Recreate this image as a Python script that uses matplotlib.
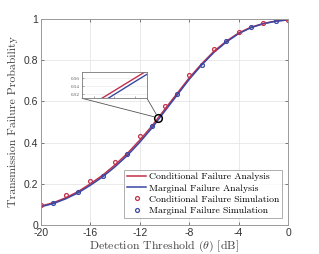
import numpy as np
import matplotlib
matplotlib.use("Agg")
import matplotlib.pyplot as plt

plt.rcParams["mathtext.fontset"] = "cm"

# analysis curves (1 dB steps)
theta = [-20, -19, -18, -17, -16, -15, -14, -13, -12, -11, -10,
         -9, -8, -7, -6, -5, -4, -3, -2, -1, 0]
cond_analysis = [0.092, 0.108, 0.132, 0.162, 0.200, 0.242, 0.292, 0.348, 0.412, 0.482, 0.560,
                 0.637, 0.714, 0.782, 0.843, 0.892, 0.932, 0.960, 0.978, 0.990, 0.996]
marg_analysis = [0.089, 0.104, 0.127, 0.156, 0.193, 0.234, 0.283, 0.338, 0.402, 0.472, 0.551,
                 0.629, 0.707, 0.776, 0.838, 0.888, 0.929, 0.958, 0.977, 0.989, 0.996]

# simulation points
cond_sim_x = [-20, -18, -16, -14, -12, -10, -8, -6, -4, -2, 0]
cond_sim_y = [0.098, 0.147, 0.214, 0.307, 0.434, 0.578, 0.728, 0.853, 0.935, 0.979, 0.995]
marg_sim_x = [-19, -17, -15, -13, -11, -9, -7, -5, -3, -1]
marg_sim_y = [0.105, 0.160, 0.238, 0.343, 0.480, 0.634, 0.777, 0.893, 0.963, 0.990]

xticks = [-20, -16, -12, -8, -4, 0]
xticklabels = ["-20", "-16", "-12", "-8", "-4", "0"]
yticks = [0, 0.2, 0.4, 0.6, 0.8, 1]
yticklabels = ["0", "0.2", "0.4", "0.6", "0.8", "1"]

red = "#c3304a"
blue = "#3a47a3"
serif = "cmr10"

fig = plt.figure(figsize=(3.19, 2.54), dpi=100)
ax = fig.add_axes([41 / 319, 29 / 254, 247 / 319, 206 / 254])

ax.plot(theta, cond_analysis, color=red, lw=1.1, label="Conditional Failure Analysis")
ax.plot(theta, marg_analysis, color=blue, lw=1.1, label="Marginal Failure Analysis")
ax.plot(cond_sim_x, cond_sim_y, "o", ms=2.8, mfc="none", mec=red, mew=0.9, ls="none",
        label="Conditional Failure Simulation")
ax.plot(marg_sim_x, marg_sim_y, "o", ms=2.8, mfc="none", mec=blue, mew=0.9, ls="none",
        label="Marginal Failure Simulation")

# zoom circle
ax.plot([-10.5], [0.52], "o", ms=5.5, mfc="none", mec="black", mew=1.1)

ax.set_xlim(-20, 0)
ax.set_ylim(0, 1)
ax.set_xticks(xticks)
ax.set_xticklabels(xticklabels, fontsize=7.5, color="#333333", family="Liberation Sans")
ax.set_yticks(yticks)
ax.set_yticklabels(yticklabels, fontsize=7.5, color="#333333", family="Liberation Sans")
ax.tick_params(direction="in", length=2.5, width=0.6, color="#666666", pad=2,
               top=True, right=True)
ax.grid(True, color="#e6e6e6", lw=0.6)
ax.set_axisbelow(True)
for s in ax.spines.values():
    s.set_color("#9a9a9a")
    s.set_linewidth(0.7)

ax.set_xlabel(r"Detection Threshold ($\theta$) [dB]", family=serif, fontsize=8.5,
              color="#444444", labelpad=1)
ax.set_ylabel("Transmission Failure Probability", family=serif, fontsize=8.5,
              color="#444444", labelpad=4)

leg = ax.legend(loc="lower right", bbox_to_anchor=(0.985, 0.025),
                prop={"family": serif, "size": 7}, frameon=True, fancybox=False,
                handlelength=2.0, handletextpad=0.3, borderpad=0.3, labelspacing=0.25,
                borderaxespad=0.2)
leg.get_frame().set_edgecolor("#9a9a9a")
leg.get_frame().set_linewidth(0.7)

# inset
ins = fig.add_axes([82 / 319, (254 - 98.3) / 254, 65 / 319, 26.6 / 254])
ins.plot(theta, cond_analysis, color=red, lw=1.0)
ins.plot(theta, marg_analysis, color=blue, lw=1.0)
ins.set_xlim(-11.03, -9.76)
ins.set_ylim(0.51, 0.576)
ins.set_xticks([-10.8, -10.4, -10.0])
ins.set_xticklabels([])
ins.set_yticks([0.52, 0.54, 0.56])
ins.set_yticklabels(["0.52", "0.54", "0.56"], fontsize=3.5, family=serif, color="#444444")
ins.tick_params(direction="in", length=1.5, width=0.4, pad=1.5, color="#666666")
ins.grid(True, axis="y", color="#e6e6e6", lw=0.4)
for s in ins.spines.values():
    s.set_color("#777777")
    s.set_linewidth(0.6)

# connector lines from inset corners to the circle
for cx in (0.0, 1.0):
    ax.annotate("", xy=(-10.5, 0.52), xycoords="data",
                xytext=(cx, 0.0), textcoords=ins.transAxes,
                arrowprops=dict(arrowstyle="-", color="#555555", lw=0.6,
                                shrinkA=0, shrinkB=3))

fig.savefig("out.png", dpi=100)
